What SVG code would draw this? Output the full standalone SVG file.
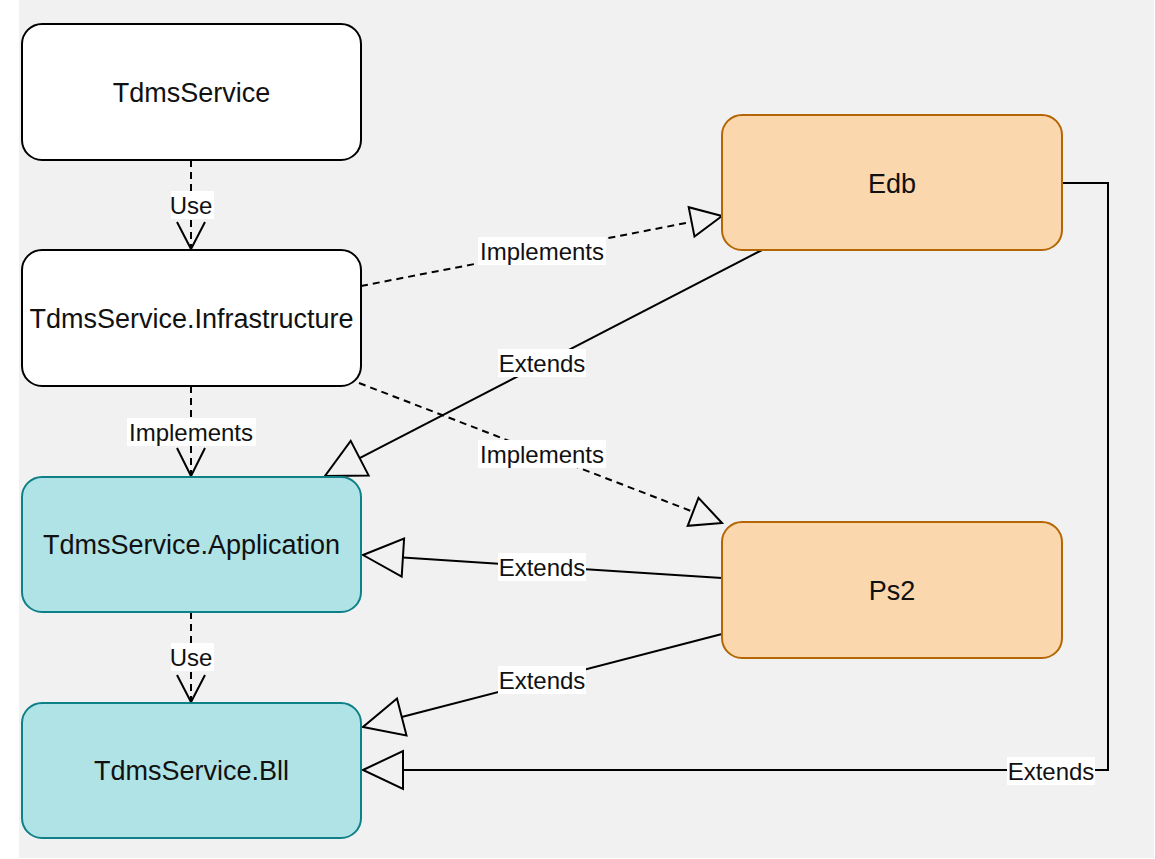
<svg xmlns="http://www.w3.org/2000/svg" width="1155" height="859" viewBox="0 0 1155 859">
<style>
.bg{fill:#f1f1f1}
.n{stroke-width:2}
.w{fill:#ffffff;stroke:#000000}
.b{fill:#b0e3e6;stroke:#0e8088}
.o{fill:#fad7ac;stroke:#b46504}
.t{font-family:"Liberation Sans",Arial,sans-serif;font-size:27px;fill:#111111;text-anchor:middle}
.l{font-family:"Liberation Sans",Arial,sans-serif;font-size:24px;fill:#111111;text-anchor:middle}
.e{fill:none;stroke:#000000;stroke-width:2}
.d{stroke-dasharray:7 5}
.h{fill:#f1f1f1;stroke:#000000;stroke-width:2;stroke-linejoin:miter}
.v{fill:none;stroke:#000000;stroke-width:2}
.lb{fill:#ffffff}
</style>
<rect class="bg" x="19" y="0" width="1135" height="858"/>
<g id="connectors">
  <line class="e d" x1="191" y1="160" x2="191" y2="248"/>
  <polyline class="v" points="177,222 191,249 205,222"/>
  <line class="e d" x1="191" y1="386" x2="191" y2="475"/>
  <polyline class="v" points="177,448 191,476 205,448"/>
  <line class="e d" x1="191" y1="612" x2="191" y2="701"/>
  <polyline class="v" points="177,675 191,702 205,675"/>
  <line class="e d" x1="361" y1="286" x2="691.6" y2="221.9"/>
  <polygon class="h" points="722,216 694.5,236.6 688.7,207.2"/>
  <line class="e d" x1="359" y1="383" x2="693.1" y2="511.8"/>
  <polygon class="h" points="722,523 687.7,525.8 698.5,497.8"/>
  <line class="e" x1="762" y1="250" x2="359.6" y2="458.1"/>
  <polygon class="h" points="325,476 368.6,475.4 350.7,440.8"/>
  <line class="e" x1="722" y1="578" x2="402.9" y2="557.6"/>
  <polygon class="h" points="363,555 404.1,538.6 401.7,576.6"/>
  <line class="e" x1="722" y1="634" x2="401.7" y2="717"/>
  <polygon class="h" points="363,727 406.5,735.4 397,698.6"/>
  <path class="e" d="M1062 183 H1108 V770 H403"/>
  <polygon class="h" points="363,770 403,751 403,789"/>
  <rect class="lb" x="171" y="191" width="43" height="28"/>
  <text class="l" x="191" y="213.5">Use</text>
  <rect class="lb" x="127" y="418" width="129" height="28"/>
  <text class="l" x="191" y="440.5">Implements</text>
  <rect class="lb" x="171" y="643" width="43" height="28"/>
  <text class="l" x="191" y="665.5">Use</text>
  <rect class="lb" x="478" y="237" width="128" height="28"/>
  <text class="l" x="542" y="259.5">Implements</text>
  <rect class="lb" x="498" y="349" width="88" height="28"/>
  <text class="l" x="542" y="371.5">Extends</text>
  <rect class="lb" x="478" y="440" width="128" height="28"/>
  <text class="l" x="542" y="462.5">Implements</text>
  <rect class="lb" x="498" y="553" width="88" height="28"/>
  <text class="l" x="542" y="575.5">Extends</text>
  <rect class="lb" x="498" y="666" width="88" height="28"/>
  <text class="l" x="542" y="688.5">Extends</text>
  <rect class="lb" x="1007" y="757" width="88" height="28"/>
  <text class="l" x="1051" y="779.5">Extends</text>
</g>
<g id="node-tdmsservice">
  <rect class="n w" x="22" y="24" width="339" height="136" rx="20"/>
  <text class="t" x="191.5" y="101.5">TdmsService</text>
</g>
<g id="node-infrastructure">
  <rect class="n w" x="22" y="250" width="339" height="136" rx="20"/>
  <text class="t" x="191.5" y="327.5">TdmsService.Infrastructure</text>
</g>
<g id="node-application">
  <rect class="n b" x="22" y="477" width="339" height="135" rx="20"/>
  <text class="t" x="191.5" y="553.5">TdmsService.Application</text>
</g>
<g id="node-bll">
  <rect class="n b" x="22" y="703" width="339" height="135" rx="20"/>
  <text class="t" x="191.5" y="779.5">TdmsService.Bll</text>
</g>
<g id="node-edb">
  <rect class="n o" x="722" y="115" width="340" height="135" rx="20"/>
  <text class="t" x="892" y="192.5">Edb</text>
</g>
<g id="node-ps2">
  <rect class="n o" x="722" y="522" width="340" height="136" rx="20"/>
  <text class="t" x="892" y="599.5">Ps2</text>
</g>
</svg>
